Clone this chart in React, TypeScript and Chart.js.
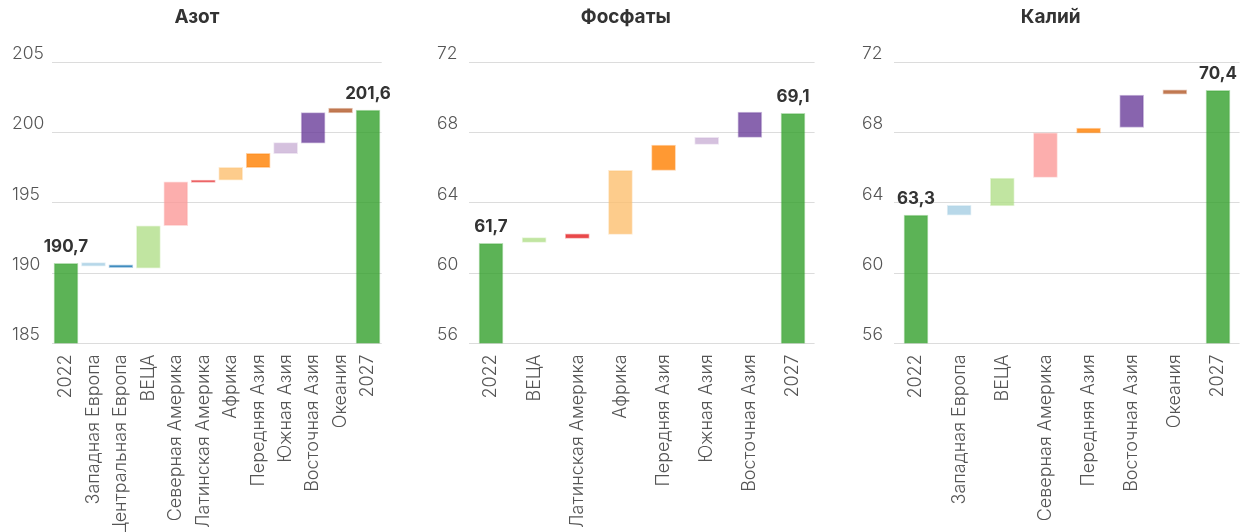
import React, { useEffect, useRef } from 'react';
import { Chart, registerables } from 'chart.js';

Chart.register(...registerables);

const FONT = 'Inter, "Noto Sans", sans-serif';

// ---------- data ----------
const years = ['2022', '2027'];

const azotTotals = [190.7, 201.6];
const azotRegions = ['Западная Европа', 'Центральная Европа', 'ВЕЦА', 'Северная Америка', 'Латинская Америка', 'Африка', 'Передняя Азия', 'Южная Азия', 'Восточная Азия', 'Океания'];
const azotLow = [190.5, 190.38, 190.35, 193.37, 196.45, 196.62, 197.5, 198.5, 199.25, 201.4];
const azotHigh = [190.74, 190.58, 193.37, 196.5, 196.62, 197.53, 198.52, 199.28, 201.42, 201.75];

const phosTotals = [61.7, 69.1];
const phosRegions = ['ВЕЦА', 'Латинская Америка', 'Африка', 'Передняя Азия', 'Южная Азия', 'Восточная Азия'];
const phosLow = [61.75, 61.98, 62.2, 65.84, 67.33, 67.73];
const phosHigh = [62.02, 62.24, 65.85, 67.29, 67.73, 69.16];

const kalTotals = [63.3, 70.4];
const kalRegions = ['Западная Европа', 'ВЕЦА', 'Северная Америка', 'Передняя Азия', 'Восточная Азия', 'Океания'];
const kalLow = [63.29, 63.83, 65.45, 67.97, 68.29, 70.18];
const kalHigh = [63.86, 65.41, 67.99, 68.25, 70.14, 70.43];

// ---------- styles ----------
const regionColor: Record<string, string> = {
  'Западная Европа': '166,206,227',
  'Центральная Европа': '31,120,180',
  'ВЕЦА': '178,223,138',
  'Северная Америка': '251,154,153',
  'Латинская Америка': '227,26,28',
  'Африка': '253,191,111',
  'Передняя Азия': '255,127,0',
  'Южная Азия': '202,178,214',
  'Восточная Азия': '106,61,154',
  'Океания': '177,89,40',
};
const totalColor = '51,160,44';

const fmt = (v: number) => v.toFixed(1).replace('.', ',');

type PanelCfg = {
  title: string;
  totals: number[];
  regions: string[];
  low: number[];
  high: number[];
  min: number;
  max: number;
  step: number;
  left: number;
  width: number;
  padL: number;
  axisW: number;
  padR: number;
};

function Panel({ cfg }: { cfg: PanelCfg }) {
  const ref = useRef<HTMLCanvasElement>(null);
  useEffect(() => {
    const labels = [years[0], ...cfg.regions, years[1]];
    const data: any[] = [cfg.totals[0], ...cfg.regions.map((_, i) => [cfg.low[i], cfg.high[i]]), cfg.totals[1]];
    const rgb = [totalColor, ...cfg.regions.map((r) => regionColor[r]), totalColor];
    const totalsPlugin = {
      id: 'totalsLabels',
      afterDatasetsDraw(chart: any) {
        const meta = chart.getDatasetMeta(0);
        const ctx = chart.ctx;
        ctx.save();
        ctx.font = `bold 17px ${FONT}`;
        ctx.fillStyle = '#333333';
        ctx.textAlign = 'center';
        ctx.textBaseline = 'alphabetic';
        [0, meta.data.length - 1].forEach((i) => {
          const el = meta.data[i];
          const v = chart.data.datasets[0].data[i] as number;
          ctx.fillText(fmt(v), el.x, el.y - 11);
        });
        ctx.restore();
      },
    };
    const chart = new Chart(ref.current as HTMLCanvasElement, {
      type: 'bar',
      data: {
        labels,
        datasets: [
          {
            data,
            backgroundColor: rgb.map((c) => `rgba(${c},0.8)`),
            borderColor: rgb.map((c) => `rgba(${c},0.35)`),
            borderWidth: 1,
            borderSkipped: false,
            barThickness: 24,
          },
        ],
      },
      options: {
        responsive: false,
        animation: false,
        layout: { padding: { left: cfg.padL, right: cfg.padR, top: 0, bottom: 0 } },
        plugins: {
          legend: { display: false },
          tooltip: { enabled: false },
          title: {
            display: true,
            text: cfg.title,
            color: '#333333',
            font: { family: FONT, size: 19, weight: 'bold' },
            padding: { top: 6, bottom: 33.5 },
          },
        },
        scales: {
          x: {
            grid: { display: false, drawTicks: false },
            border: { display: false },
            ticks: {
              autoSkip: false,
              minRotation: 90,
              maxRotation: 90,
              padding: 11,
              color: '#555555',
              font: { family: FONT, size: 18, weight: 300 },
            },
            afterFit: (s: any) => {
              s.height = 188.67;
              s.paddingLeft = 0;
              s.paddingRight = 0;
            },
          },
          y: {
            min: cfg.min,
            max: cfg.max,
            grid: { color: '#dcdcdc', drawTicks: false, lineWidth: 1 },
            border: { display: false },
            ticks: {
              stepSize: cfg.step,
              crossAlign: 'far',
              labelOffset: -8.5,
              padding: 0,
              color: '#555555',
              font: { family: FONT, size: 17.5, weight: 300 },
              callback: (v: any) => String(v),
            },
            afterFit: (s: any) => {
              s.width = cfg.axisW;
            },
          },
        },
      } as any,
      plugins: [totalsPlugin],
    });
    return () => chart.destroy();
  }, [cfg]);
  return (
    <div style={{ position: 'absolute', left: cfg.left, top: 0, width: cfg.width, height: 532 }}>
      <canvas ref={ref} width={cfg.width} height={532} style={{ display: 'block', width: cfg.width, height: 532 }} />
    </div>
  );
}

const panels: PanelCfg[] = [
  { title: 'Азот', totals: azotTotals, regions: azotRegions, low: azotLow, high: azotHigh, min: 185, max: 205, step: 5, left: 0, width: 400, padL: 12, axisW: 40.27, padR: 18.27 },
  { title: 'Фосфаты', totals: phosTotals, regions: phosRegions, low: phosLow, high: phosHigh, min: 56, max: 72, step: 4, left: 424, width: 400, padL: 13, axisW: 32.43, padR: 9.43 },
  { title: 'Калий', totals: kalTotals, regions: kalRegions, low: kalLow, high: kalHigh, min: 56, max: 72, step: 4, left: 854, width: 388, padL: 8, axisW: 32.43, padR: 2.43 },
];

export default function App() {
  return (
    <div style={{ position: 'fixed', left: 0, top: 0, width: 1242, height: 532, background: '#ffffff', overflow: 'hidden' }}>
      {panels.map((p) => (
        <Panel key={p.title} cfg={p} />
      ))}
    </div>
  );
}
